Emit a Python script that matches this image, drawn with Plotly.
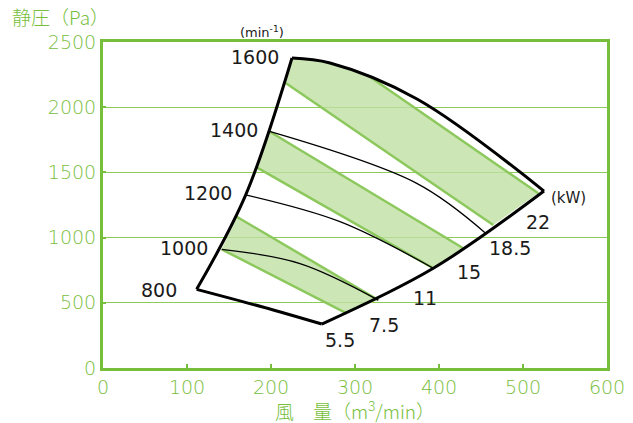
import plotly.graph_objects as go

GREEN = '#77be3c'
BAND_LINE = '#8cc85c'
BAND_FILL = 'rgba(190,224,160,0.78)'
FONT = 'DejaVu Sans, Noto Sans CJK JP'
JP_FONT = 'Noto Sans CJK JP'

# outer boundary of the operating range (airflow m3/min, static pressure Pa)
left_x = [111.5, 169.9, 225]
left_y = [603, 1327, 2377]
top_x = [225, 270.2, 373.8, 525]
top_y = [2377, 2339, 2063, 1357]
right_x = [525, 393.2, 260.4]
right_y = [1357, 765, 337]
bottom_x = [111.5, 202.7, 260.4]
bottom_y = [603, 445, 337]

# rpm curves
rpm1000_x = [141.3, 234.5, 327.7]
rpm1000_y = [910, 801, 521]
rpm1200_x = [169.9, 282.1, 393.2]
rpm1200_y = [1327, 1122, 765]
rpm1400_x = [198.2, 373.5, 454.8]
rpm1400_y = [1814, 1416, 1038]

# green power bands (polygons)
band1_x = [141.3, 159.2, 327.7, 290.1]
band1_y = [910, 1160, 521, 419]
band2_x = [183.0, 198.2, 428.9, 393.2]
band2_y = [1539, 1814, 918, 765]
band3_x = [217.9, 225, 270.2, 315.5, 518.2, 464.6]
band3_y = [2183, 2377, 2339, 2243, 1340, 1097]

# band edge lines
edges = [
    ([141.3, 290.1], [910, 419]),
    ([159.2, 327.7], [1160, 521]),
    ([183.0, 393.2], [1539, 765]),
    ([198.2, 428.9], [1814, 918]),
    ([217.9, 464.6], [2183, 1097]),
    ([315.5, 518.2], [2243, 1340]),
]

rpm_labels = ['1600', '1400', '1200', '1000', '800']
rpm_label_x = [181, 156, 125, 96.4, 66.7]
rpm_label_y = [2385, 1825, 1342, 920, 598]
kw_labels = ['5.5', '7.5', '11', '15', '18.5', '22']
kw_label_x = [282.1, 334.5, 383.3, 435.7, 484.5, 517.9]
kw_label_y = [215, 330, 537, 736, 920, 1120]

fig = go.Figure()

for bx, by in [(band1_x, band1_y), (band2_x, band2_y), (band3_x, band3_y)]:
    fig.add_trace(go.Scatter(x=bx, y=by, fill='toself', fillcolor=BAND_FILL,
                             mode='none', hoverinfo='skip'))

for ex, ey in edges:
    fig.add_trace(go.Scatter(x=ex, y=ey, mode='lines',
                             line=dict(color=BAND_LINE, width=2.5), hoverinfo='skip'))

for cx, cy in [(rpm1000_x, rpm1000_y), (rpm1200_x, rpm1200_y), (rpm1400_x, rpm1400_y)]:
    fig.add_trace(go.Scatter(x=cx, y=cy, mode='lines',
                             line=dict(color='black', width=1.3, shape='spline', smoothing=1),
                             hoverinfo='skip'))

for ox, oy in [(left_x, left_y), (top_x, top_y), (right_x, right_y), (bottom_x, bottom_y)]:
    fig.add_trace(go.Scatter(x=ox, y=oy, mode='lines',
                             line=dict(color='black', width=3, shape='spline', smoothing=1),
                             hoverinfo='skip'))

annotations = []
for t, ax, ay in zip(rpm_labels + kw_labels, rpm_label_x + kw_label_x, rpm_label_y + kw_label_y):
    annotations.append(dict(x=ax, y=ay, text=t, showarrow=False,
                            font=dict(size=19, color='#1a1a1a', family=FONT)))
annotations.append(dict(xref='paper', yref='paper', x=0.3155, y=1.0307,
                        xanchor='center', yanchor='middle',
                        text='(min<sup>-1</sup>)', showarrow=False,
                        font=dict(size=13, color='#1a1a1a', family=FONT)))
annotations.append(dict(x=553.6, y=1304, text='(kW)', showarrow=False,
                        font=dict(size=15, color='#1a1a1a', family=FONT)))
annotations.append(dict(xref='paper', yref='paper', x=-0.185, y=1.077,
                        xanchor='left', yanchor='middle',
                        text='静圧（Pa）', showarrow=False,
                        font=dict(size=19, color=GREEN, family=JP_FONT, weight=300)))
annotations.append(dict(xref='paper', yref='paper', x=0.5, y=-0.129,
                        xanchor='center', yanchor='middle',
                        text='風　量（m<sup>3</sup>/min）', showarrow=False,
                        font=dict(size=19, color=GREEN, family=JP_FONT, weight=300)))

# page body has an 8px margin, so the figure is shifted by 8px
fig.update_layout(
    width=625, height=415,
    margin=dict(l=95, r=26, t=34, b=55),
    plot_bgcolor='white', paper_bgcolor='white',
    showlegend=False,
    annotations=annotations,
    font=dict(family=FONT, color=GREEN, size=19),
    xaxis=dict(range=[0, 600], dtick=100, showgrid=False, zeroline=False, automargin=False,
               showline=True, linecolor=GREEN, linewidth=3, mirror=True,
               ticks='inside', ticklen=4, tickwidth=2, tickcolor=GREEN,
               tickfont=dict(size=19, color=GREEN, weight=300)),
    yaxis=dict(range=[0, 2500], dtick=500, showgrid=True, gridcolor='#8dca5a', gridwidth=1,
               zeroline=False, showline=True, linecolor=GREEN, linewidth=3, mirror=True,
               automargin=False,
               ticks='inside', ticklen=3, tickwidth=2, tickcolor=GREEN,
               tickfont=dict(size=19, color=GREEN, weight=300)),
)

fig.write_html('out.html')
